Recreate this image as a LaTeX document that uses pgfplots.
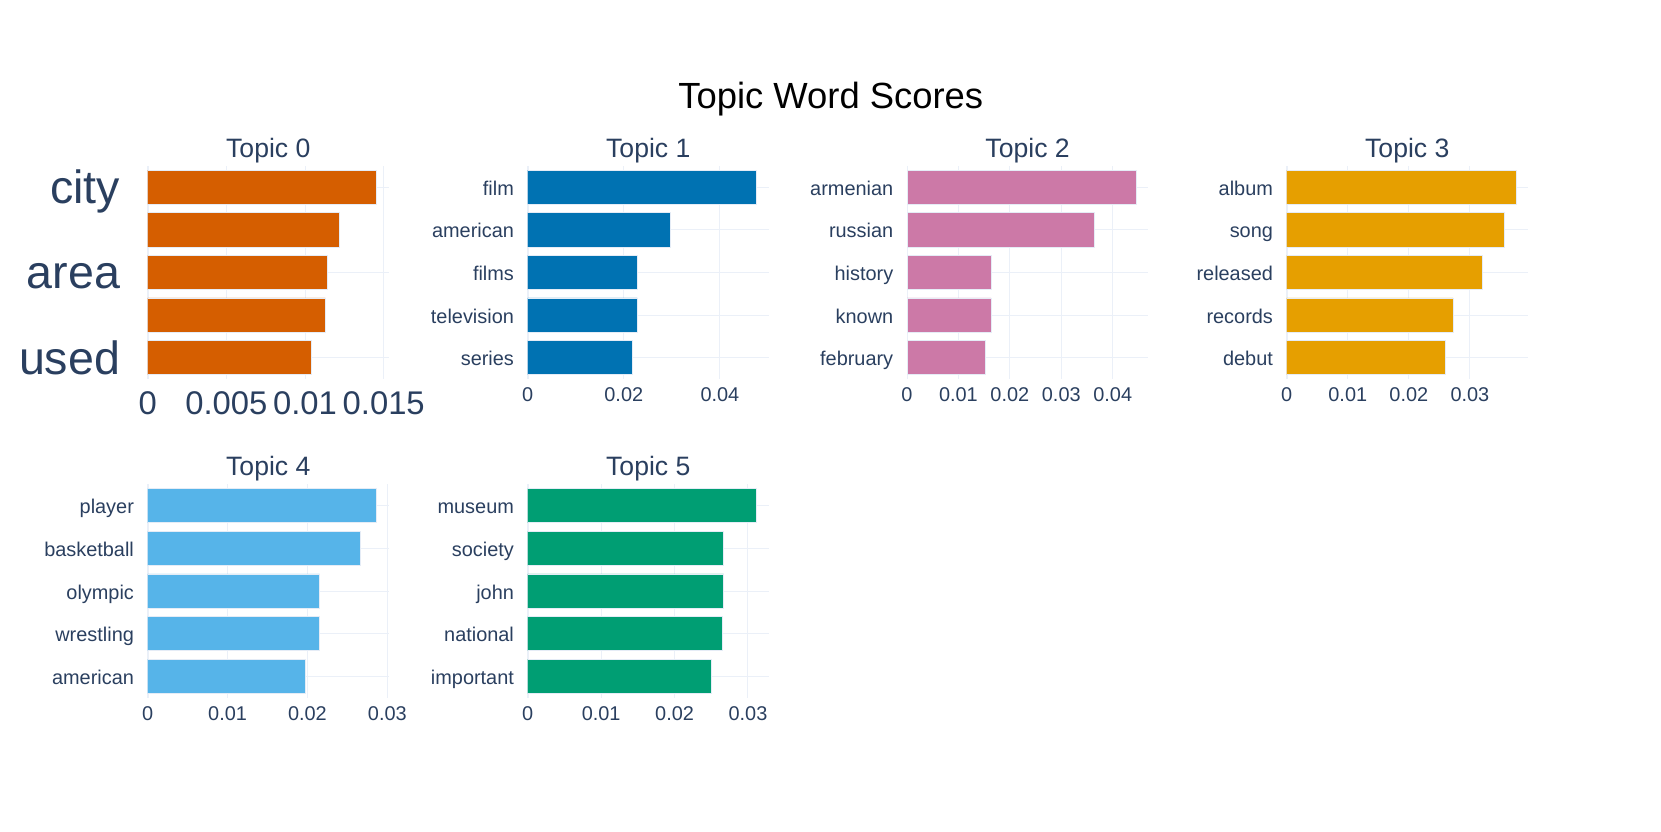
\documentclass[border=0pt]{standalone}
\usepackage{fontspec}
\setmainfont{Liberation Sans}
\usepackage{pgfplots}
\pgfplotsset{compat=1.18}

\definecolor{txt}{HTML}{2A3F5F}
\definecolor{gridc}{HTML}{EBF0F8}
\definecolor{edge}{HTML}{E5ECF6}
\definecolor{cA}{HTML}{D55E00}
\definecolor{cB}{HTML}{0072B2}
\definecolor{cC}{HTML}{CC79A7}
\definecolor{cD}{HTML}{E69F00}
\definecolor{cE}{HTML}{56B4E9}
\definecolor{cF}{HTML}{009E73}

\pgfplotsset{
  topic/.style={
    scale only axis, width=120.6pt, height=106.6pt, anchor=south west,
    xbar, bar width=0.8, xmin=0, ymin=-0.5, ymax=4.5, y dir=reverse,
    ytick={0,1,2,3,4}, scaled x ticks=false,
    axis line style={draw=none}, major tick length=0pt,
    xmajorgrids, ymajorgrids, grid style={gridc, line width=0.5pt},
    tick label style={font=\fontsize{9.95}{11}\selectfont, text=txt},
    yticklabel style={anchor=east, inner sep=0pt, xshift=-6.7pt, text height=10pt, text depth=1.8pt},
    xticklabel style={anchor=north, inner sep=0pt, yshift=-3.9pt},
    every axis title/.style={font=\fontsize{13.3}{15}\selectfont, text=txt, at={(0.5,1)}, anchor=base, yshift=4pt},
  },
  bars/.style={fill=#1, draw=edge, line width=0.3pt},
}

\begin{document}
\begin{tikzpicture}
\path (0,0) rectangle (830.5pt,415.5pt);

\node[anchor=base, font=\fontsize{18.2}{20}\selectfont] at (415.4pt,361.2pt) {Topic Word Scores};

% Topic 0 (labels thinned out, bigger font)
\begin{axis}[topic, at={(73.85pt,226pt)}, title={Topic 0},
  xmax=0.01533, xtick={0,0.005,0.01,0.015}, xticklabels={0,0.005,0.01,0.015},
  ytick={0,2,4}, yticklabels={city,area,used},
  yticklabel style={font=\fontsize{23.3}{25}\selectfont, xshift=-13.6pt+6.7pt, text height=19pt, text depth=2.6pt},
  xticklabel style={font=\fontsize{16.4}{18}\selectfont, yshift=-6.3pt+3.9pt}]
\draw[gridc, line width=1pt] (axis cs:0,-0.5) -- (axis cs:0,4.5);
\addplot[bars=cA] coordinates {(0.01453,0) (0.01218,1) (0.01142,2) (0.01129,3) (0.01041,4)};
\end{axis}

% Topic 1
\begin{axis}[topic, at={(263.85pt,226pt)}, title={Topic 1},
  xmax=0.0502, xtick={0,0.02,0.04}, xticklabels={0,0.02,0.04},
  yticklabels={film,american,films,television,series}]
\draw[gridc, line width=1pt] (axis cs:0,-0.5) -- (axis cs:0,4.5);
\addplot[bars=cB] coordinates {(0.04763,0) (0.02965,1) (0.02284,2) (0.02282,3) (0.02173,4)};
\end{axis}

% Topic 2
\begin{axis}[topic, at={(453.5pt,226pt)}, title={Topic 2},
  xmax=0.0469, xtick={0,0.01,0.02,0.03,0.04}, xticklabels={0,0.01,0.02,0.03,0.04},
  yticklabels={armenian,russian,history,known,february}]
\draw[gridc, line width=1pt] (axis cs:0,-0.5) -- (axis cs:0,4.5);
\addplot[bars=cC] coordinates {(0.04455,0) (0.03644,1) (0.01647,2) (0.01634,3) (0.01531,4)};
\end{axis}

% Topic 3
\begin{axis}[topic, at={(643.35pt,226pt)}, title={Topic 3},
  xmax=0.0395, xtick={0,0.01,0.02,0.03}, xticklabels={0,0.01,0.02,0.03},
  yticklabels={album,song,released,records,debut}]
\draw[gridc, line width=1pt] (axis cs:0,-0.5) -- (axis cs:0,4.5);
\addplot[bars=cD] coordinates {(0.03754,0) (0.03568,1) (0.03207,2) (0.02726,3) (0.02595,4)};
\end{axis}

% Topic 4
\begin{axis}[topic, at={(73.85pt,66.7pt)}, title={Topic 4},
  xmax=0.0302, xtick={0,0.01,0.02,0.03}, xticklabels={0,0.01,0.02,0.03},
  yticklabels={player,basketball,olympic,wrestling,american},
  xticklabel style={yshift=-0.6pt}, title style={yshift=0.5pt}]
\draw[gridc, line width=1pt] (axis cs:0,-0.5) -- (axis cs:0,4.5);
\addplot[bars=cE] coordinates {(0.02862,0) (0.02662,1) (0.02154,2) (0.02154,3) (0.01979,4)};
\end{axis}

% Topic 5
\begin{axis}[topic, at={(263.85pt,66.7pt)}, title={Topic 5},
  xmax=0.03285, xtick={0,0.01,0.02,0.03}, xticklabels={0,0.01,0.02,0.03},
  yticklabels={museum,society,john,national,important},
  xticklabel style={yshift=-0.6pt}, title style={yshift=0.5pt}]
\draw[gridc, line width=1pt] (axis cs:0,-0.5) -- (axis cs:0,4.5);
\addplot[bars=cF] coordinates {(0.03118,0) (0.02668,1) (0.02668,2) (0.02654,3) (0.02504,4)};
\end{axis}
\end{tikzpicture}
\end{document}
